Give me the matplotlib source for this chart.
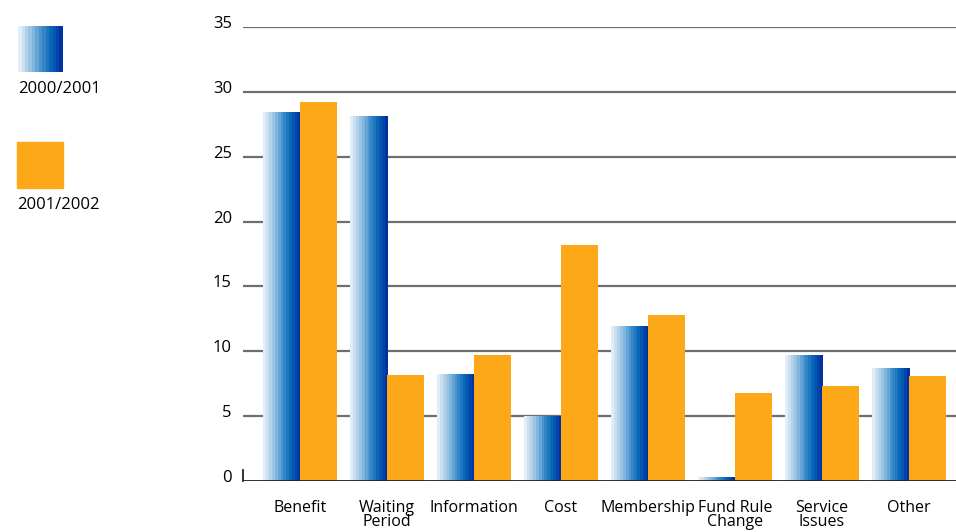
import matplotlib

matplotlib.use("Agg", force=True)
import matplotlib.pyplot as plt
import matplotlib.transforms as mtransforms
import numpy as np
from matplotlib.colors import LinearSegmentedColormap, ListedColormap
from matplotlib.patches import Rectangle

categories = ["Benefit", "Waiting\nPeriod", "Information", "Cost", "Membership",
              "Fund Rule\nChange", "Service\nIssues", "Other"]
year_2000_01 = [28.4, 28.1, 8.2, 5.0, 11.9, 0.3, 9.7, 8.7]
year_2001_02 = [29.2, 8.2, 9.7, 18.2, 12.8, 6.8, 7.3, 8.1]
series_labels = ["2000/2001", "2001/2002"]
y_ticks = [0, 5, 10, 15, 20, 25, 30, 35]

plt.rcParams["font.family"] = ["Open Sans", "DejaVu Sans"]

ORANGE = "#fca819"
base = LinearSegmentedColormap.from_list(
    "blues", ["#e2edf7", "#9cc5e4", "#4a95d0", "#0a68b9", "#0033a0"])
stripes = ListedColormap(base(np.linspace(0, 1, 13)))
gradient = np.linspace(0, 1, 256).reshape(1, -1)

fig = plt.figure(figsize=(9.56, 5.32), dpi=100)
ax = fig.add_axes([243 / 956, 51 / 532, 713 / 956, 454 / 532])

bar_w = 0.43
x = np.arange(len(categories))

for xi, h in zip(x, year_2000_01):
    ax.imshow(gradient, cmap=stripes, aspect="auto", interpolation="nearest",
              extent=[xi - bar_w, xi, 0, h], zorder=3)
ax.bar(x + bar_w / 2, year_2001_02, width=bar_w, color=ORANGE, zorder=3)

ax.set_xlim(-0.655, 7.54)
ax.set_ylim(0, 35)

for t in y_ticks[1:]:
    ax.axhline(t, color="#6e6e6e", lw=1.6, zorder=1)
ax.axhline(0, color="#222222", lw=1.3, zorder=4)
ax.plot([-0.655, -0.655], [0, 0.85], color="#222222", lw=1.3, zorder=4,
        clip_on=False)

for s in ax.spines.values():
    s.set_visible(False)
ax.set_yticks(y_ticks)
ax.set_yticklabels([str(t) for t in y_ticks], fontsize=12)
ax.tick_params(axis="y", length=0, pad=8)
# tick numbers sit a little above their gridlines
lift = mtransforms.ScaledTranslation(0, 5 / 100, fig.dpi_scale_trans)
for lbl in ax.get_yticklabels():
    lbl.set_transform(lbl.get_transform() + lift)

ax.set_xticks(x)
ax.set_xticklabels(categories, fontsize=11.5, linespacing=0.8, va="top")
ax.tick_params(axis="x", length=0, pad=14)

# legend drawn by hand at the left margin
leg = fig.add_axes([0, 0, 1, 1], zorder=-1)
leg.imshow(gradient, cmap=stripes, aspect="auto", interpolation="nearest",
           extent=[18, 63, 72, 26])
leg.add_patch(Rectangle((17, 142), 46, 46, color=ORANGE))
leg.text(18, 89, series_labels[0], fontsize=12, va="center", ha="left")
leg.text(17, 205, series_labels[1], fontsize=12, va="center", ha="left")
leg.set_xlim(0, 956)
leg.set_ylim(532, 0)
leg.axis("off")

fig.savefig("out.png", dpi=100)
